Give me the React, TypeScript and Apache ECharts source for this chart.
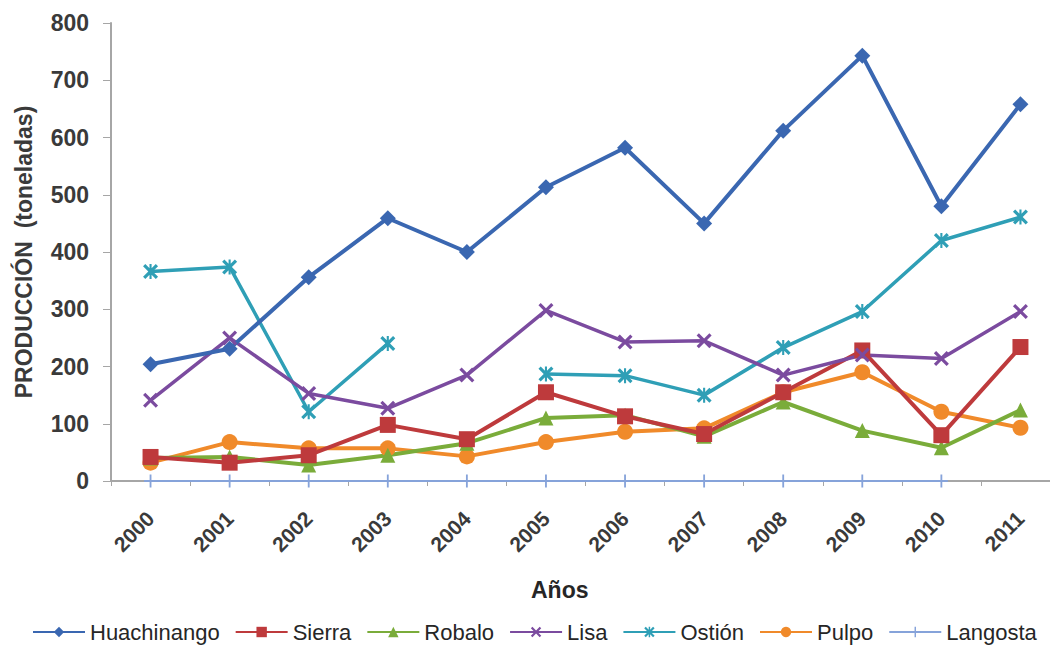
import React, { useEffect, useRef } from "react";
import * as echarts from "echarts";

const years = ["2000", "2001", "2002", "2003", "2004", "2005", "2006", "2007", "2008", "2009", "2010", "2011"];
const huachinango = [204, 231, 356, 459, 400, 513, 582, 450, 612, 743, 480, 658];
const sierra = [42, 32, 45, 98, 73, 155, 113, 82, 155, 228, 80, 234];
const robalo = [40, 42, 28, 45, 66, 110, 115, 78, 138, 88, 58, 124];
const lisa = [141, 250, 153, 127, 185, 298, 243, 245, 185, 220, 214, 296];
const ostion = [366, 374, 121, 240, null, 187, 184, 150, 233, 296, 420, 461];
const pulpo = [32, 68, 57, 57, 43, 68, 86, 92, 155, 190, 121, 93];
const langosta = [0, 0, 0, 0, 0, 0, 0, 0, 0, 0, 0, null];
const yTicks = [0, 800, 100];

const xPath = "path://M0,1.5 L1.5,0 L5,3.5 L8.5,0 L10,1.5 L6.5,5 L10,8.5 L8.5,10 L5,6.5 L1.5,10 L0,8.5 L3.5,5 Z";
const starPath = "path://M0,1.5 L1.5,0 L5,3.5 L8.5,0 L10,1.5 L6.5,5 L10,8.5 L8.5,10 L5,6.5 L1.5,10 L0,8.5 L3.5,5 Z M4.3,0 L5.7,0 L5.7,10 L4.3,10 Z";
const plusPath = "path://M4.3,0 L5.7,0 L5.7,4.3 L10,4.3 L10,5.7 L5.7,5.7 L5.7,10 L4.3,10 L4.3,5.7 L0,5.7 L0,4.3 L4.3,4.3 Z";

export default function App() {
  const ref = useRef<HTMLDivElement>(null);
  useEffect(() => {
    if (!ref.current) return;
    const chart = echarts.init(ref.current, null, { renderer: "svg" });
    const mk = (name: string, data: any[], color: string, symbol: string, size: any, width: number) => ({
      name,
      type: "line",
      data,
      color,
      symbol,
      symbolSize: size,
      showSymbol: true,
      lineStyle: { width, color },
      itemStyle: { color },
      connectNulls: false,
    });
    chart.setOption({
      animation: false,
      backgroundColor: "#ffffff",
      textStyle: { fontFamily: "Liberation Sans, Arial, sans-serif" },
      grid: { left: 111, top: 23, width: 949, height: 458, containLabel: false, outerBoundsMode: "none" },
      xAxis: {
        type: "category",
        data: years,
        boundaryGap: true,
        axisLine: { lineStyle: { color: "#a6a6a6", width: 2 } },
        axisTick: { show: true, interval: 0, length: 5, lineStyle: { color: "#a6a6a6" } },
        axisLabel: { rotate: 45, margin: 34, color: "#3a3a3a", fontSize: 21, fontWeight: "bold", interval: 0 },
      },
      yAxis: {
        type: "value",
        min: yTicks[0],
        max: yTicks[1],
        interval: yTicks[2],
        name: "PRODUCCIÓN  (toneladas)",
        nameLocation: "middle",
        nameGap: 76,
        nameTextStyle: { color: "#3a3a3a", fontSize: 23, fontWeight: "bold" },
        axisLine: { show: true, lineStyle: { color: "#a6a6a6", width: 2 } },
        axisTick: { show: true, length: 8, lineStyle: { color: "#a6a6a6" } },
        splitLine: { show: false },
        axisLabel: { color: "#3a3a3a", fontSize: 23, fontWeight: "bold", margin: 22 },
      },
      legend: {
        top: 621,
        left: 32,
        width: 1016,
        padding: 0,
        itemWidth: 52,
        itemHeight: 13,
        itemGap: 15,
        textStyle: { color: "#262626", fontSize: 22 },
        data: ["Huachinango", "Sierra", "Robalo", "Lisa", "Ostión", "Pulpo", "Langosta"],
      },
      graphic: [
        {
          type: "text",
          left: 531,
          top: 578,
          style: { text: "Años", font: "bold 23px 'Liberation Sans', Arial, sans-serif", fill: "#262626" },
        },
      ],
      series: [
        mk("Langosta", langosta, "#86a3da", plusPath, 13, 2),
        mk("Pulpo", pulpo, "#f08a2a", "circle", 16, 4),
        mk("Robalo", robalo, "#7aac3a", "triangle", 15, 4),
        mk("Sierra", sierra, "#be3a3c", "rect", 16, 4),
        mk("Ostión", ostion, "#2f9fb6", starPath, 15, 3.5),
        mk("Lisa", lisa, "#7b4b9f", xPath, 15, 3.5),
        mk("Huachinango", huachinango, "#3a67b1", "diamond", 16, 4),
      ],
    });
    return () => chart.dispose();
  }, []);
  return <div ref={ref} style={{ position: "fixed", left: 0, top: 0, width: 1050, height: 649 }} />;
}
